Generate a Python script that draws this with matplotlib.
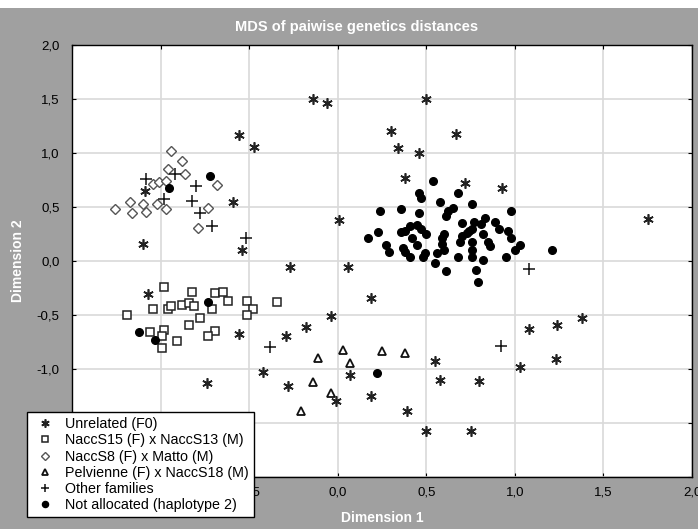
import numpy as np
import matplotlib
matplotlib.use("Agg")
import matplotlib.pyplot as plt
from matplotlib.patches import Rectangle
from matplotlib.ticker import FuncFormatter, MultipleLocator

#---------------------------------------------------------------------------
# MDS coordinates (Dimension 1, Dimension 2)
unrel_x = [-0.14, -0.06, 0.50, 0.30, 0.34, 0.46, 0.67, 0.38, 0.72, 0.93,
           -0.56, -0.47, -1.09, -0.59, -1.10, -0.54, -0.27, 0.01, 0.06, 0.19,
           -0.04, -0.18, -0.29, -0.56, -1.07, -0.42, -0.74, -0.28, 0.07, -0.01,
           0.19, 0.39, 0.55, 0.58, 0.80, 1.03, 0.50, 0.75, 1.08, 1.24,
           1.38, 1.23, 1.75]
unrel_y = [1.50, 1.46, 1.50, 1.20, 1.05, 1.00, 1.18, 0.77, 0.72, 0.68,
           1.17, 1.06, 0.65, 0.55, 0.16, 0.10, -0.06, 0.38, -0.06, -0.34,
           -0.51, -0.61, -0.69, -0.68, -0.31, -1.03, -1.13, -1.16, -1.06, -1.30,
           -1.25, -1.39, -0.93, -1.10, -1.11, -0.98, -1.57, -1.57, -0.63, -0.59,
           -0.53, -0.91, 0.39]

s15_x = [-0.98, -0.82, -0.69, -0.65, -0.62, -0.51, -0.34, -1.04, -0.96, -0.94,
         -0.88, -0.84, -0.81, -0.71, -0.48, -0.51, -1.19, -0.78, -0.84, -1.06,
         -0.98, -0.99, -0.69, -0.73, -0.91, -0.99]
s15_y = [-0.24, -0.29, -0.30, -0.29, -0.37, -0.37, -0.38, -0.44, -0.44, -0.42,
         -0.41, -0.39, -0.42, -0.44, -0.44, -0.50, -0.50, -0.53, -0.59, -0.66,
         -0.64, -0.69, -0.65, -0.69, -0.74, -0.81]

s8_x = [-0.94, -0.88, -0.96, -0.86, -1.04, -1.01, -0.97, -0.68, -1.17, -1.10,
        -1.02, -0.97, -1.26, -1.16, -1.08, -0.73, -0.79]
s8_y = [1.02, 0.93, 0.85, 0.81, 0.71, 0.73, 0.74, 0.70, 0.55, 0.53,
        0.53, 0.48, 0.48, 0.44, 0.45, 0.49, 0.31]

pel_x = [-0.11, 0.03, 0.07, 0.25, 0.38, -0.14, -0.04, -0.21]
pel_y = [-0.90, -0.82, -0.94, -0.83, -0.85, -1.12, -1.22, -1.39]

oth_x = [-1.08, -0.92, -0.80, -0.98, -0.82, -0.78, -0.71, -0.52, -0.38, 0.92, 1.08]
oth_y = [0.76, 0.81, 0.69, 0.57, 0.56, 0.44, 0.32, 0.21, -0.80, -0.79, -0.07]

na_x = [-0.95, -0.72, -0.73, -1.12, -1.03, 0.22,
        0.54, 0.46, 0.47, 0.58, 0.68, 0.76, 0.24, 0.36, 0.46, 0.65,
        0.62, 0.61, 0.98, 0.83, 0.77, 0.89, 0.70, 0.81, 0.91, 0.96,
        0.41, 0.45, 0.47, 0.50, 0.38, 0.36, 0.23, 0.17, 0.27, 0.29,
        0.42, 0.45, 0.37, 0.38, 0.41, 0.49, 0.48, 0.56, 0.60, 0.59,
        0.59, 0.60, 0.55, 0.61, 0.74, 0.76, 0.73, 0.70, 0.69, 0.76,
        0.82, 0.85, 0.86, 0.76, 0.76, 0.68, 0.82, 0.78, 0.79, 0.98,
        1.00, 1.03, 0.95, 1.21]
na_y = [0.68, 0.79, -0.38, -0.66, -0.73, -1.04,
        0.74, 0.63, 0.58, 0.55, 0.63, 0.53, 0.46, 0.48, 0.44, 0.49,
        0.46, 0.42, 0.46, 0.40, 0.36, 0.36, 0.35, 0.34, 0.30, 0.28,
        0.32, 0.33, 0.30, 0.25, 0.28, 0.27, 0.27, 0.21, 0.15, 0.08,
        0.21, 0.15, 0.12, 0.08, 0.04, 0.07, 0.04, 0.07, 0.25, 0.21,
        0.16, 0.10, -0.02, -0.09, 0.28, 0.30, 0.26, 0.23, 0.18, 0.18,
        0.25, 0.18, 0.14, 0.10, 0.04, 0.04, 0.01, -0.08, -0.19, 0.21,
        0.10, 0.15, 0.04, 0.10]

labels = ["Unrelated (F0)", "NaccS15 (F) x NaccS13 (M)", "NaccS8 (F) x Matto (M)",
          "Pelvienne (F) x NaccS18 (M)", "Other families", "Not allocated (haplotype 2)"]
#---------------------------------------------------------------------------

plt.rcParams['font.family'] = ['Liberation Sans', 'DejaVu Sans']
W, H = 698, 529
fig = plt.figure(figsize=(W / 100, H / 100), dpi=100)
fig.patch.set_facecolor("white")
# grey panel behind everything (white strip on top)
fig.patches.append(Rectangle((0, 0), 1, 1 - 8 / H, transform=fig.transFigure,
                             facecolor="#a0a0a0", edgecolor="none", zorder=-10))

ax = fig.add_axes((72 / W, 1 - 477 / H, 620 / W, 432 / H))
ax.set_facecolor("white")
ax.set_xlim(-1.5, 2.0)
ax.set_ylim(-2.0, 2.0)
ax.xaxis.set_major_locator(MultipleLocator(0.5))
ax.yaxis.set_major_locator(MultipleLocator(0.5))
comma = FuncFormatter(lambda v, p: f"{v:.1f}".replace(".", ","))
ax.xaxis.set_major_formatter(comma)
ax.yaxis.set_major_formatter(comma)
ax.tick_params(direction="in", length=3, top=True, right=True, labelsize=9.5,
               colors="black")
ax.tick_params(axis="x", pad=7)
ax.tick_params(axis="y", pad=9)
ax.grid(True, color="#d9d9d9", linewidth=1.2)
ax.set_axisbelow(True)
for s in ax.spines.values():
    s.set_linewidth(1.0)
    s.set_color("black")

star = (6, 2, 0)
h1, = ax.plot(unrel_x, unrel_y, ls="none", marker=star, ms=7.5, mew=1.2, color="#222222")
h2, = ax.plot(s15_x, s15_y, ls="none", marker="s", ms=5.5, mfc="white", mec="#222222", mew=1.1)
h3, = ax.plot(s8_x, s8_y, ls="none", marker="D", ms=5, mfc="white", mec="#555555", mew=1.0)
h4, = ax.plot(pel_x, pel_y, ls="none", marker="^", ms=5.5, mfc="white", mec="#111111", mew=1.3)
h5, = ax.plot(oth_x, oth_y, ls="none", marker="+", ms=8, mew=1.1, color="#111111")
h6, = ax.plot(na_x, na_y, ls="none", marker="o", ms=5.5, color="black")

fig.text(357 / W, 1 - 27 / H, "MDS of paiwise genetics distances", color="white",
         fontsize=10.5, fontweight="bold", ha="center", va="center",
         family=["Liberation Sans Narrow", "Liberation Sans"])
fig.text(382 / W, 1 - 518 / H, "Dimension 1", color="white", fontsize=10,
         fontweight="bold", ha="center", va="center")
fig.text(18 / W, 1 - 261 / H, "Dimension 2", color="white", fontsize=10,
         fontweight="bold", ha="center", va="center", rotation=90)

leg = fig.legend([h1, h2, h3, h4, h5, h6], labels, loc="upper left",
                 bbox_to_anchor=(27 / W, 1 - 412 / H), borderaxespad=0,
                 fontsize=10.3, frameon=True, fancybox=False, framealpha=1,
                 edgecolor="black", handlelength=1.8, handletextpad=0.5,
                 labelspacing=0.16, borderpad=0.35, markerscale=0.8)
leg.get_frame().set_linewidth(1.0)

fig.savefig("out.png", dpi=100)
